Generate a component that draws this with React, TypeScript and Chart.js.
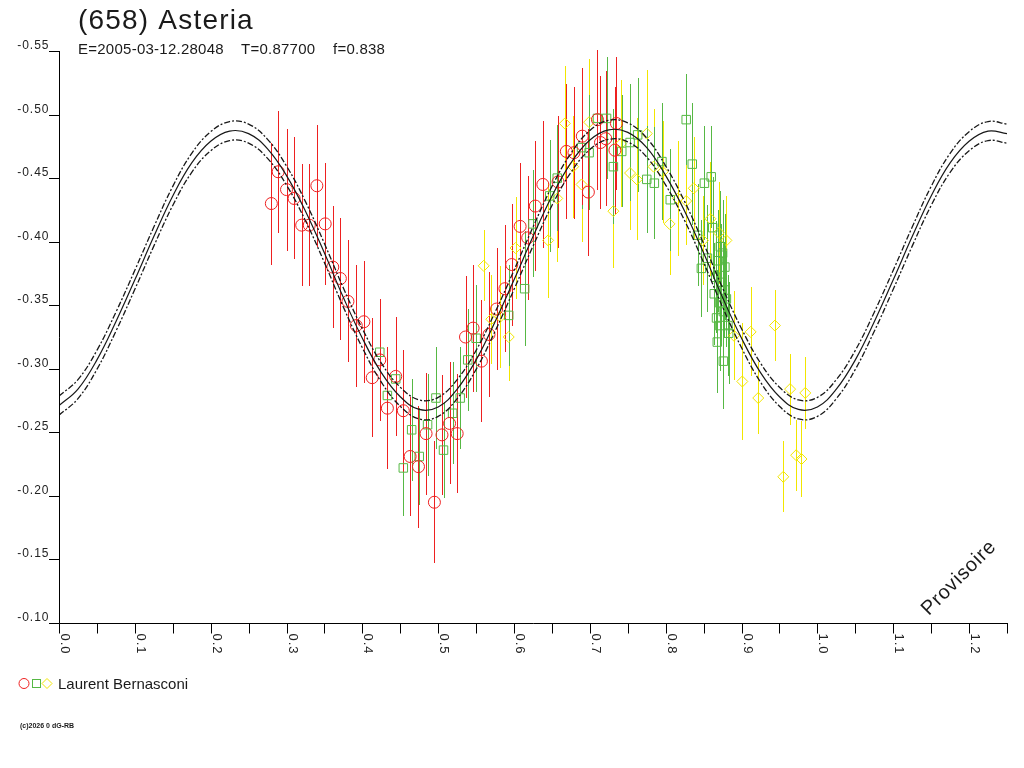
import React, { useEffect, useRef } from 'react';
import { Chart, registerables } from 'chart.js';

Chart.register(...registerables);

const FONT = '"Liberation Sans", Arial, Helvetica, sans-serif';

// ---- texts ----
const titleText = '(658) Asteria';
const subtitleE = 'E=2005-03-12.28048';
const subtitleT = 'T=0.87700';
const subtitleF = 'f=0.838';
const observerName = 'Laurent Bernasconi';
const footerText = '(c)2026 0 dG-RB';
const watermarkText = 'Provisoire';

// ---- axes ----
const xMin = 0;
const xMax = 1.25;
const yMin = -0.55;
const yMax = -0.1;
const xTickValues = [0, 0.05, 0.1, 0.15, 0.2, 0.25, 0.3, 0.35, 0.4, 0.45, 0.5, 0.55, 0.6, 0.65, 0.7, 0.75, 0.8, 0.85, 0.9, 0.95, 1.0, 1.05, 1.1, 1.15, 1.2, 1.25];
const xLabelValues = [0, 0.1, 0.2, 0.3, 0.4, 0.5, 0.6, 0.7, 0.8, 0.9, 1.0, 1.1, 1.2];
const xTickLabels = ['0.0', '0.1', '0.2', '0.3', '0.4', '0.5', '0.6', '0.7', '0.8', '0.9', '1.0', '1.1', '1.2'];
const yTickValues = [-0.55, -0.5, -0.45, -0.4, -0.35, -0.3, -0.25, -0.2, -0.15, -0.1];
const yTickLabels = ['-0.55', '-0.50', '-0.45', '-0.40', '-0.35', '-0.30', '-0.25', '-0.20', '-0.15', '-0.10'];

// ---- fitted light curve ----
const fitPhase = [
  0, 0.025, 0.05, 0.075, 0.1, 0.125, 0.15, 0.175, 0.2, 0.225, 0.25, 0.275, 0.3, 0.325, 0.35, 0.375, 0.4, 0.425, 0.45, 0.475, 0.5,
  0.525, 0.55, 0.575, 0.6, 0.625, 0.65, 0.675, 0.7, 0.725, 0.75, 0.775, 0.8, 0.825, 0.85, 0.875, 0.9, 0.925, 0.95, 0.975, 1.0,
  1.025, 1.05, 1.075, 1.1, 1.125, 1.15, 1.175, 1.2, 1.225, 1.25,
];
const fitMag = [
  -0.271, -0.284, -0.307, -0.337, -0.37, -0.404, -0.436, -0.462, -0.479, -0.487, -0.485, -0.473, -0.452, -0.424, -0.391, -0.356, -0.324, -0.297, -0.278, -0.268, -0.27,
  -0.284, -0.307, -0.337, -0.37, -0.404, -0.436, -0.462, -0.48, -0.488, -0.486, -0.474, -0.452, -0.424, -0.391, -0.356, -0.324, -0.297, -0.278, -0.268, -0.27,
  -0.284, -0.307, -0.337, -0.37, -0.404, -0.436, -0.462, -0.479, -0.487, -0.485,
];
const fitUpper = [
  -0.2785, -0.2915, -0.3145, -0.3445, -0.3775, -0.4115, -0.4435, -0.4695, -0.4865, -0.4945, -0.4925, -0.4805, -0.4595, -0.4315, -0.3985, -0.3635, -0.3315, -0.3045, -0.2855, -0.2755, -0.2775,
  -0.2915, -0.3145, -0.3445, -0.3775, -0.4115, -0.4435, -0.4695, -0.4875, -0.4955, -0.4935, -0.4815, -0.4595, -0.4315, -0.3985, -0.3635, -0.3315, -0.3045, -0.2855, -0.2755, -0.2775,
  -0.2915, -0.3145, -0.3445, -0.3775, -0.4115, -0.4435, -0.4695, -0.4865, -0.4945, -0.4925,
];
const fitLower = [
  -0.2635, -0.2765, -0.2995, -0.3295, -0.3625, -0.3965, -0.4285, -0.4545, -0.4715, -0.4795, -0.4775, -0.4655, -0.4445, -0.4165, -0.3835, -0.3485, -0.3165, -0.2895, -0.2705, -0.2605, -0.2625,
  -0.2765, -0.2995, -0.3295, -0.3625, -0.3965, -0.4285, -0.4545, -0.4725, -0.4805, -0.4785, -0.4665, -0.4445, -0.4165, -0.3835, -0.3485, -0.3165, -0.2895, -0.2705, -0.2605, -0.2625,
  -0.2765, -0.2995, -0.3295, -0.3625, -0.3965, -0.4285, -0.4545, -0.4715, -0.4795, -0.4775,
];

// ---- observations: session 1 (red circles) ----
const redPhase = [
  0.28, 0.289, 0.3, 0.31, 0.32, 0.33, 0.34, 0.351, 0.361, 0.371,
  0.381, 0.392, 0.402, 0.413, 0.423, 0.433, 0.444, 0.454, 0.463, 0.474,
  0.484, 0.495, 0.505, 0.515, 0.525, 0.536, 0.546, 0.557, 0.567, 0.577,
  0.588, 0.597, 0.608, 0.618, 0.628, 0.638, 0.658, 0.669, 0.679, 0.69,
  0.698, 0.71, 0.714, 0.721, 0.733, 0.735,
];
const redMag = [
  -0.43, -0.455, -0.441, -0.434, -0.413, -0.413, -0.444, -0.414, -0.38, -0.371,
  -0.353, -0.334, -0.337, -0.293, -0.307, -0.269, -0.294, -0.267, -0.231, -0.223,
  -0.249, -0.195, -0.248, -0.257, -0.249, -0.325, -0.332, -0.306, -0.327, -0.347,
  -0.363, -0.382, -0.412, -0.403, -0.428, -0.445, -0.447, -0.471, -0.47, -0.483,
  -0.439, -0.496, -0.478, -0.481, -0.472, -0.493,
];
const redErr = [
  0.048, 0.048, 0.048, 0.048, 0.048, 0.048, 0.048, 0.048, 0.048, 0.048,
  0.048, 0.048, 0.048, 0.047, 0.048, 0.048, 0.047, 0.048, 0.047, 0.048,
  0.048, 0.048, 0.047, 0.048, 0.047, 0.048, 0.05, 0.048, 0.049, 0.048,
  0.05, 0.048, 0.05, 0.049, 0.051, 0.05, 0.052, 0.053, 0.052, 0.054,
  0.05, 0.055, 0.052, 0.053, 0.05, 0.052,
];

// ---- session 2 (green squares) ----
const greenPhase = [
  0.423, 0.433, 0.444, 0.454, 0.465, 0.475, 0.486, 0.497, 0.507, 0.519,
  0.529, 0.539, 0.55, 0.593, 0.614, 0.625, 0.647, 0.657, 0.689, 0.699,
  0.71, 0.722, 0.731, 0.742, 0.753, 0.763, 0.775, 0.785, 0.795, 0.806,
  0.827, 0.835, 0.851, 0.86, 0.842, 0.847, 0.855, 0.862, 0.864, 0.877,
  0.871, 0.882, 0.868, 0.876, 0.875, 0.866, 0.869, 0.871, 0.873, 0.876,
  0.878, 0.88, 0.883, 0.872, 0.867,
];
const greenMag = [
  -0.313, -0.279, -0.292, -0.222, -0.252, -0.231, -0.256, -0.277, -0.236, -0.265,
  -0.277, -0.307, -0.324, -0.342, -0.363, -0.414, -0.436, -0.45, -0.474, -0.47,
  -0.497, -0.497, -0.459, -0.471, -0.478, -0.484, -0.449, -0.446, -0.463, -0.433,
  -0.496, -0.461, -0.446, -0.451, -0.405, -0.379, -0.387, -0.411, -0.359, -0.362,
  -0.334, -0.334, -0.321, -0.306, -0.391, -0.372, -0.385, -0.352, -0.368, -0.345,
  -0.38, -0.355, -0.328, -0.396, -0.34,
];
const greenErr = [
  0.038, 0.038, 0.04, 0.038, 0.04, 0.038, 0.04, 0.04, 0.038, 0.04,
  0.04, 0.04, 0.042, 0.04, 0.045, 0.042, 0.044, 0.042, 0.048, 0.045,
  0.05, 0.048, 0.045, 0.044, 0.046, 0.045, 0.042, 0.044, 0.046, 0.04,
  0.036, 0.048, 0.045, 0.04, 0.04, 0.038, 0.042, 0.04, 0.04, 0.038,
  0.036, 0.04, 0.04, 0.038, 0.042, 0.044, 0.04, 0.042, 0.046, 0.04,
  0.042, 0.038, 0.04, 0.044, 0.038,
];

// ---- session 3 (yellow diamonds) ----
const yellowPhase = [
  0.56, 0.57, 0.582, 0.593, 0.602, 0.645, 0.657, 0.667, 0.678, 0.689,
  0.699, 0.731, 0.741, 0.753, 0.762, 0.775, 0.784, 0.796, 0.805, 0.816,
  0.827, 0.837, 0.849, 0.859, 0.87, 0.88, 0.89, 0.912, 0.901, 0.922,
  0.944, 0.964, 0.984, 0.955, 0.972, 0.979,
];
const yellowMag = [
  -0.381, -0.339, -0.341, -0.325, -0.395, -0.401, -0.434, -0.493, -0.459, -0.445,
  -0.494, -0.424, -0.477, -0.454, -0.449, -0.485, -0.459, -0.455, -0.414, -0.434,
  -0.432, -0.442, -0.401, -0.418, -0.407, -0.401, -0.326, -0.329, -0.29, -0.277,
  -0.334, -0.284, -0.281, -0.215, -0.232, -0.229,
];
const yellowErr = [
  0.028, 0.035, 0.04, 0.035, 0.04, 0.045, 0.05, 0.045, 0.04, 0.045,
  0.05, 0.045, 0.05, 0.045, 0.048, 0.05, 0.045, 0.04, 0.04, 0.045,
  0.035, 0.04, 0.035, 0.045, 0.04, 0.035, 0.035, 0.035, 0.046, 0.028,
  0.028, 0.028, 0.028, 0.028, 0.028, 0.03,
];

const RED = '#ee2020';
const GREEN = '#56b844';
const YELLOW = '#f2e600';
const CURVE = '#181818';

const toPoints = (xs: number[], ys: number[]) => xs.map((x, i) => ({ x, y: ys[i] }));

function setSpacing(ctx: any, s: string) {
  if ('letterSpacing' in ctx) ctx.letterSpacing = s;
}

const errorBarPlugin = {
  id: 'errorBars',
  beforeDatasetsDraw(chart: any) {
    const { ctx, scales } = chart;
    const xs = scales.x;
    const ys = scales.y;
    ctx.save();
    ctx.lineWidth = 1;
    for (let i = chart.data.datasets.length - 1; i >= 0; i--) {
      const ds = chart.data.datasets[i];
      if (!ds.errors) continue;
      ctx.strokeStyle = ds.borderColor;
      ctx.beginPath();
      ds.data.forEach((p: any, j: number) => {
        const px = Math.round(xs.getPixelForValue(p.x)) + 0.5;
        const e = ds.errors[j];
        ctx.moveTo(px, Math.round(ys.getPixelForValue(p.y - e)));
        ctx.lineTo(px, Math.round(ys.getPixelForValue(p.y + e)));
      });
      ctx.stroke();
    }
    ctx.restore();
  },
};

const decorPlugin = {
  id: 'decor',
  afterDraw(chart: any) {
    const { ctx, chartArea, scales } = chart;
    const xs = scales.x;
    const ys = scales.y;
    ctx.save();
    ctx.strokeStyle = '#000';
    ctx.fillStyle = '#222';
    ctx.lineWidth = 1;

    // axes lines
    const ax = Math.round(chartArea.left) + 0.5;
    const ay = Math.round(chartArea.bottom) + 0.5;
    ctx.beginPath();
    ctx.moveTo(ax, Math.round(chartArea.top));
    ctx.lineTo(ax, ay);
    ctx.lineTo(Math.round(chartArea.right) + 1, ay);
    ctx.stroke();

    // y ticks + labels
    ctx.font = `12px ${FONT}`;
    setSpacing(ctx, '1px');
    ctx.textAlign = 'right';
    ctx.textBaseline = 'alphabetic';
    yTickValues.forEach((v, i) => {
      const py = Math.round(ys.getPixelForValue(v)) + 0.5;
      ctx.beginPath();
      ctx.moveTo(ax - 10.5, py);
      ctx.lineTo(ax, py);
      ctx.stroke();
      ctx.fillText(yTickLabels[i], ax - 10, py - 2.5);
    });

    // x ticks
    xTickValues.forEach((v) => {
      const px = Math.round(xs.getPixelForValue(v)) + 0.5;
      ctx.beginPath();
      ctx.moveTo(px, ay);
      ctx.lineTo(px, ay + 10);
      ctx.stroke();
    });
    // x labels (rotated clockwise)
    ctx.font = `13px ${FONT}`;
    ctx.textAlign = 'left';
    xLabelValues.forEach((v, i) => {
      const px = Math.round(xs.getPixelForValue(v));
      ctx.save();
      ctx.translate(px + 1.5, ay + 10);
      ctx.rotate(Math.PI / 2);
      ctx.fillText(xTickLabels[i], 0, 0);
      ctx.restore();
    });

    // title
    ctx.fillStyle = '#1a1a1a';
    ctx.textAlign = 'left';
    ctx.font = `28px ${FONT}`;
    setSpacing(ctx, '1.2px');
    ctx.fillText(titleText, 78, 28.5);

    ctx.font = `15px ${FONT}`;
    setSpacing(ctx, '0.25px');
    ctx.fillText(subtitleE, 78, 54);
    ctx.fillText(subtitleT, 241, 54);
    ctx.fillText(subtitleF, 333, 54);

    // legend
    const ly = 683.5;
    ctx.lineWidth = 1;
    ctx.strokeStyle = RED;
    ctx.beginPath();
    ctx.arc(24, ly, 5, 0, Math.PI * 2);
    ctx.stroke();
    ctx.strokeStyle = GREEN;
    ctx.strokeRect(32.5, ly - 4, 8, 8);
    ctx.strokeStyle = YELLOW;
    ctx.beginPath();
    ctx.moveTo(42, ly);
    ctx.lineTo(47, ly - 5);
    ctx.lineTo(52, ly);
    ctx.lineTo(47, ly + 5);
    ctx.closePath();
    ctx.stroke();
    ctx.fillStyle = '#1a1a1a';
    ctx.font = `15px ${FONT}`;
    setSpacing(ctx, '0px');
    ctx.fillText(observerName, 58, 689);

    // footer
    ctx.font = `bold 7px ${FONT}`;
    ctx.fillText(footerText, 20, 728);

    // watermark
    ctx.save();
    ctx.translate(959, 578);
    ctx.rotate(-Math.PI / 4);
    ctx.font = `20px ${FONT}`;
    setSpacing(ctx, '0.8px');
    ctx.textAlign = 'center';
    ctx.textBaseline = 'middle';
    ctx.fillText(watermarkText, 0, 0);
    ctx.restore();

    ctx.restore();
  },
};

export default function App() {
  const canvasRef = useRef<HTMLCanvasElement | null>(null);

  useEffect(() => {
    const canvas = canvasRef.current;
    if (!canvas) return;
    const curveCommon = {
      showLine: true,
      borderColor: CURVE,
      borderWidth: 1.2,
      pointRadius: 0,
      tension: 0.4,
      fill: false,
    };
    const chart = new Chart(canvas, {
      type: 'scatter',
      data: {
        datasets: [
          { label: 'fit', data: toPoints(fitPhase, fitMag), ...curveCommon },
          { label: 'fit upper', data: toPoints(fitPhase, fitUpper), ...curveCommon, borderWidth: 1.3, borderDash: [6, 2, 2, 2] },
          { label: 'fit lower', data: toPoints(fitPhase, fitLower), ...curveCommon, borderWidth: 1.3, borderDash: [6, 2, 2, 2] },
          {
            label: observerName,
            data: toPoints(redPhase, redMag),
            errors: redErr,
            pointStyle: 'circle',
            pointRadius: 6,
            borderColor: RED,
            backgroundColor: 'rgba(0,0,0,0)',
            borderWidth: 1,
          } as any,
          {
            label: observerName + ' 2',
            data: toPoints(greenPhase, greenMag),
            errors: greenErr,
            pointStyle: 'rect',
            pointRadius: 6,
            borderColor: GREEN,
            backgroundColor: 'rgba(0,0,0,0)',
            borderWidth: 1,
          } as any,
          {
            label: observerName + ' 3',
            data: toPoints(yellowPhase, yellowMag),
            errors: yellowErr,
            pointStyle: 'rectRot',
            pointRadius: 5.5,
            borderColor: YELLOW,
            backgroundColor: 'rgba(0,0,0,0)',
            borderWidth: 1,
          } as any,
        ],
      },
      options: {
        responsive: false,
        maintainAspectRatio: false,
        animation: false,
        devicePixelRatio: 1,
        events: [],
        layout: { padding: { left: 59, top: 51, right: 17, bottom: 145 } },
        plugins: {
          legend: { display: false },
          tooltip: { enabled: false },
          title: { display: false },
        },
        scales: {
          x: { type: 'linear', min: xMin, max: xMax, display: false },
          y: { type: 'linear', min: yMin, max: yMax, reverse: true, display: false },
        },
      },
      plugins: [errorBarPlugin, decorPlugin],
    } as any);
    return () => chart.destroy();
  }, []);

  return (
    <div style={{ position: 'fixed', left: 0, top: 0, width: 1024, height: 768, background: '#fff' }}>
      <canvas ref={canvasRef} width={1024} height={768} style={{ display: 'block', width: 1024, height: 768 }} />
    </div>
  );
}
